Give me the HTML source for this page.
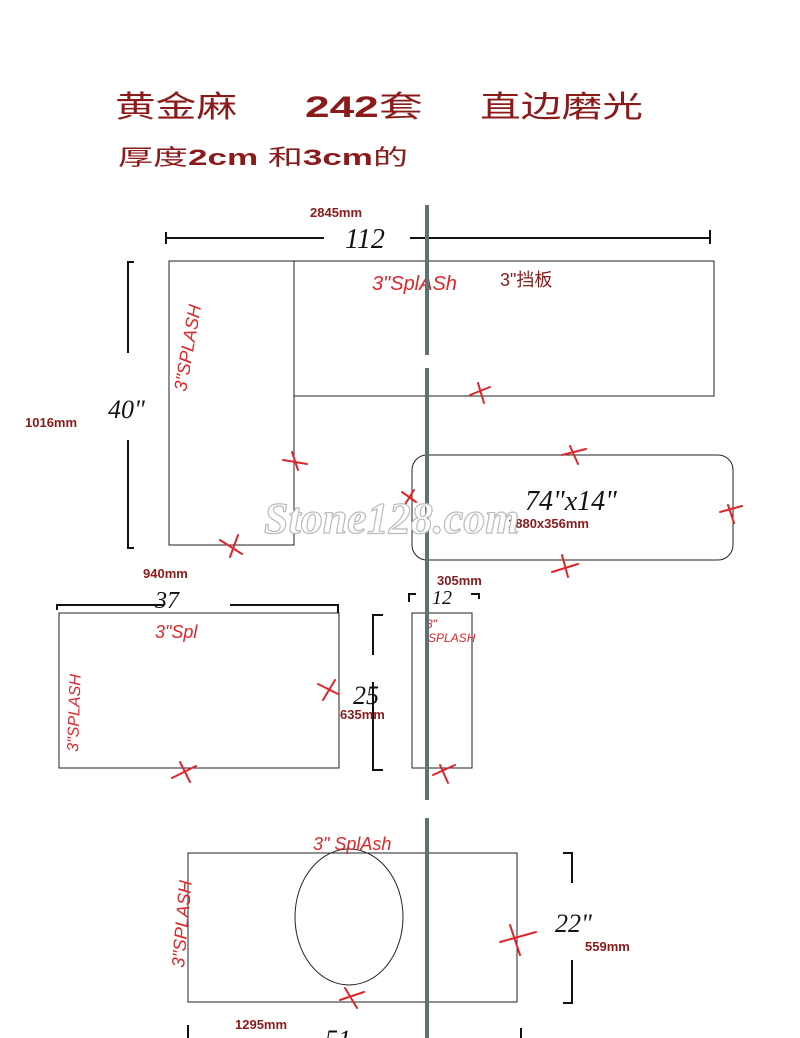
<!DOCTYPE html>
<html><head><meta charset="utf-8"><style>
html,body{margin:0;padding:0;background:#fff;}
svg{display:block}
.t{font-family:"Liberation Sans","Noto Sans CJK SC",sans-serif;fill:#8b1a1a}
.h{font-family:"Liberation Sans",sans-serif;fill:#e0262a;font-style:italic}
.k{font-family:"Liberation Serif",serif;fill:#111;font-style:italic}
</style></head><body>
<svg width="800" height="1038" viewBox="0 0 800 1038" xmlns="http://www.w3.org/2000/svg">
<rect width="800" height="1038" fill="#fff"/>
<text x="115" y="117" class="t" font-size="30" textLength="122" lengthAdjust="spacingAndGlyphs">黄金麻</text>
<text x="305" y="117" class="t" font-size="30" font-weight="bold" textLength="118" lengthAdjust="spacingAndGlyphs">242<tspan font-weight="normal">套</tspan></text>
<text x="480" y="117" class="t" font-size="30" textLength="163" lengthAdjust="spacingAndGlyphs">直边磨光</text>
<text x="118" y="165" class="t" font-size="22" textLength="290" lengthAdjust="spacingAndGlyphs">厚度<tspan font-weight="bold">2cm</tspan> 和<tspan font-weight="bold">3cm</tspan>的</text>

<g stroke="#222" fill="none" stroke-width="1">
<rect x="169" y="261" width="125" height="284"/>
<rect x="294" y="261" width="420" height="135"/>
<rect x="412" y="455" width="321" height="105" rx="15"/>
<rect x="59" y="613" width="280" height="155"/>
<rect x="412" y="613" width="60" height="155"/>
<rect x="188" y="853" width="329" height="149"/>
<ellipse cx="349" cy="917" rx="54" ry="68"/>
</g>
<g stroke="#111" fill="none" stroke-width="2">
<path d="M166 232v12M166 238h158M410 238h300M710 230v14"/>
<path d="M134 262h-6v91M128 440v108h6"/>
<path d="M57 610v-5h107M230 605h108v8"/>
<path d="M409 602v-8h7M471 594h8v5"/>
<path d="M383 615h-10v40M373 682v88h10"/>
<path d="M563 853h9v30M572 960v43h-9"/>
<path d="M188 1025v13M521 1028v10"/>
</g>
<text x="345" y="248" class="k" font-size="28">112</text>
<text x="108" y="418" class="k" font-size="26">40"</text>
<text x="155" y="608" class="k" font-size="24">37</text>
<text x="432" y="604" class="k" font-size="20">12</text>
<text x="353" y="704" class="k" font-size="26">25</text>
<text x="555" y="932" class="k" font-size="26">22"</text>
<text x="325" y="1048" class="k" font-size="26">51</text>
<text x="525" y="510" class="k" font-size="28">74"x14"</text>

<text x="310" y="217" class="t" font-size="13" font-weight="bold">2845mm</text>
<text x="25" y="427" class="t" font-size="13" font-weight="bold">1016mm</text>
<text x="143" y="578" class="t" font-size="13" font-weight="bold">940mm</text>
<text x="437" y="585" class="t" font-size="13" font-weight="bold">305mm</text>
<text x="340" y="719" class="t" font-size="13" font-weight="bold">635mm</text>
<text x="585" y="951" class="t" font-size="13" font-weight="bold">559mm</text>
<text x="235" y="1029" class="t" font-size="13" font-weight="bold">1295mm</text>
<text x="508" y="528" class="t" font-size="13" font-weight="bold">1880x356mm</text>
<text x="500" y="286" class="t" font-size="18">3"挡板</text>

<text x="372" y="290" class="h" font-size="20">3"SplASh</text>
<text class="h" font-size="18" transform="translate(186,392) rotate(-80)">3"SPLASH</text>
<text x="155" y="638" class="h" font-size="18">3"Spl</text>
<text class="h" font-size="16" transform="translate(78,752) rotate(-88)">3"SPLASH</text>
<text x="426" y="628" class="h" font-size="12">3"</text>
<text x="428" y="642" class="h" font-size="12">SPLASH</text>
<text x="313" y="850" class="h" font-size="18">3" SplAsh</text>
<text class="h" font-size="18" transform="translate(184,968) rotate(-85)">3"SPLASH</text>

<g stroke="#e0262a" stroke-width="2" fill="none" stroke-linecap="round">
<path d="M470 395l20 -8M478 383l6 20"/>
<path d="M283 460l24 4M292 452l6 18"/>
<path d="M220 540l22 14M238 535l-8 22"/>
<path d="M562 455l24 -6M570 446l8 18"/>
<path d="M402 492l14 10M414 490l-10 16"/>
<path d="M720 512l22 -6M728 505l6 18"/>
<path d="M552 572l26 -8M562 555l6 22"/>
<path d="M318 684l20 10M335 680l-12 20"/>
<path d="M172 778l24 -12M180 762l10 20"/>
<path d="M433 775l22 -10M440 765l8 18"/>
<path d="M500 942l36 -10M510 925l10 30"/>
<path d="M340 1000l24 -8M345 988l12 20"/>
</g>

<path d="M427 205V355M427 368V800M427 818V1038" stroke="#5f7272" stroke-width="4"/>

<text x="264" y="533" font-family="Liberation Serif,serif" font-style="italic" font-weight="bold" font-size="44" fill="#fff" stroke="#bbb" stroke-width="1.2">Stone128.com</text>
</svg>
</body></html>
